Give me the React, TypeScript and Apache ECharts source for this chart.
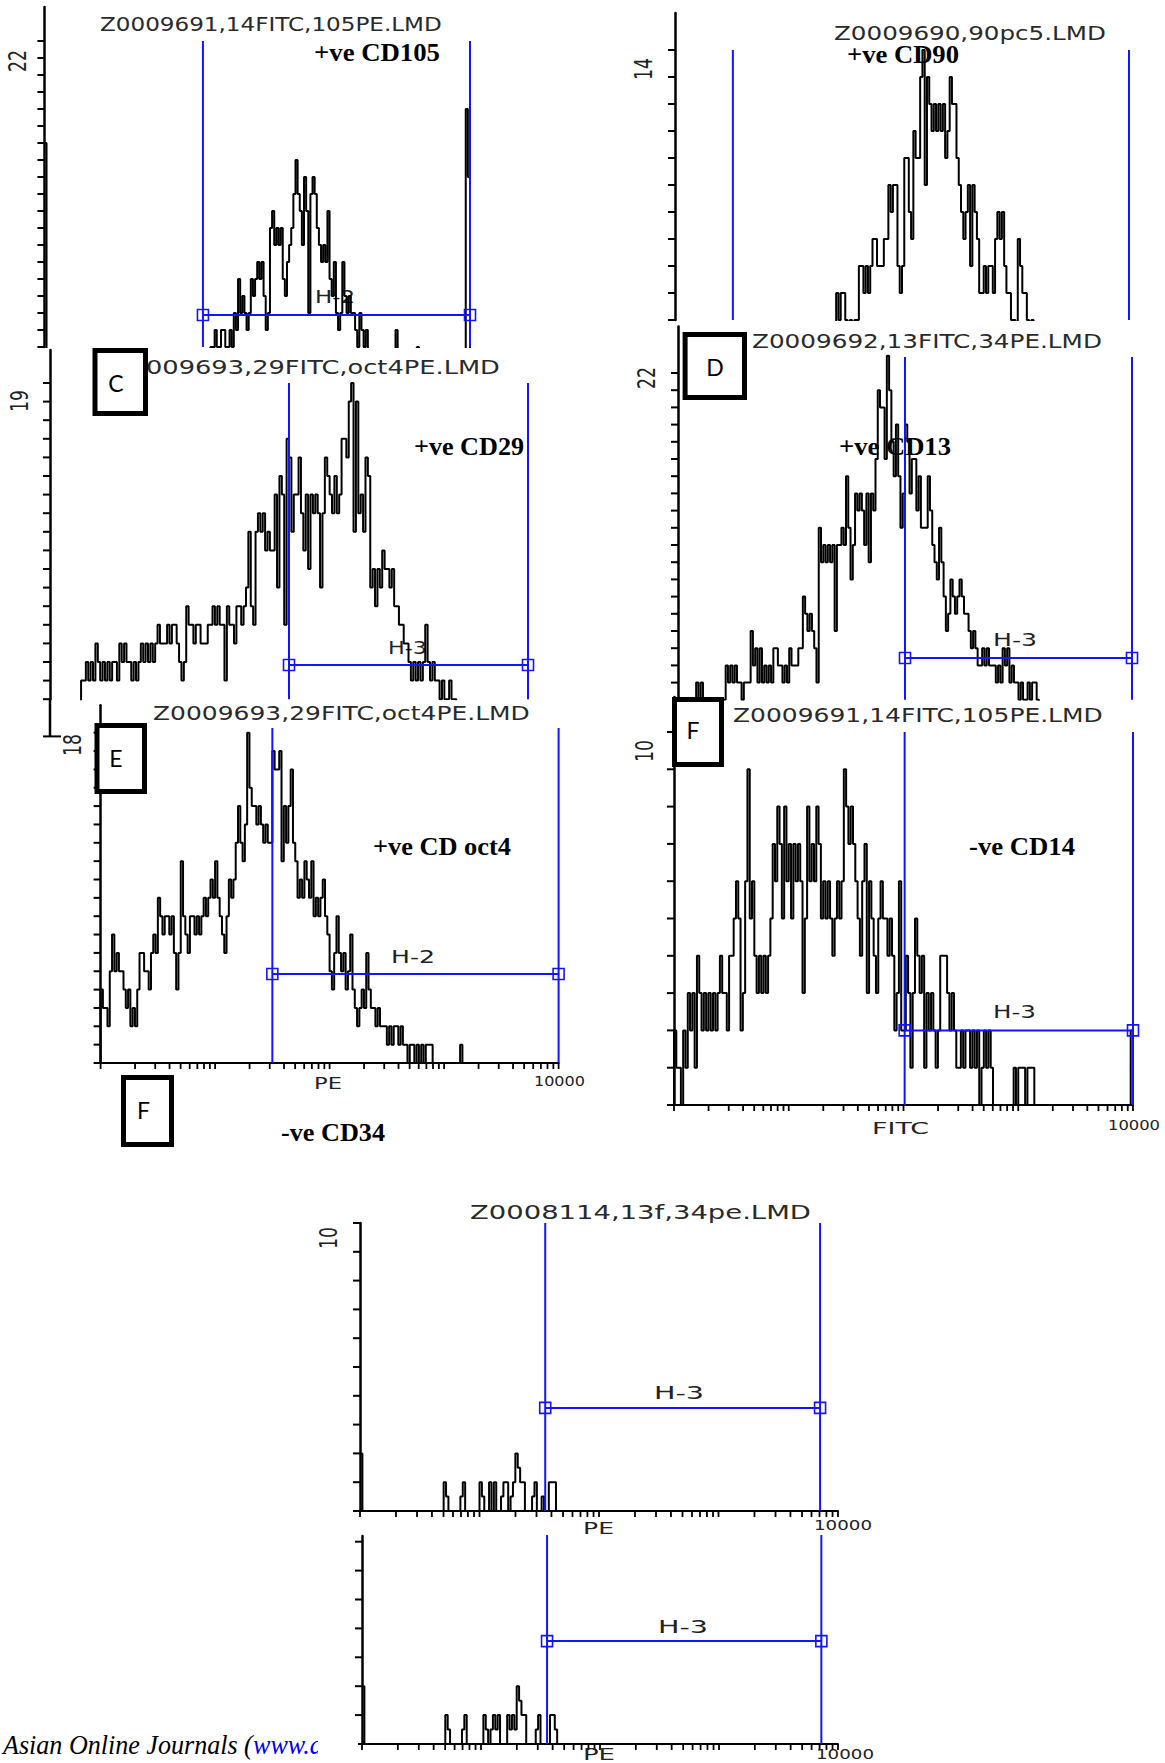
import React, { useEffect, useRef } from "react";
import * as echarts from "echarts";

// ---------- shared scale definitions (x in decades, log10 of channel value) ----------
const BIN = 0.02;
const LOG_MAX = 4; // 10^4 = 10000
const LOG_MANTISSAS = [1, 2, 3, 4, 5, 6, 7, 8, 9];
const LOG_DECADES = [0, 1, 2, 3];

// ---------- A : Z0009691 CD105 ----------
const A_START = 1.56;
const A_FIRST = 16;
const A_COUNTS = [4, 4, 5, 4, 4, 5, 5, 4, 4, 5, 4, 6, 5, 8, 6, 7, 6, 5, 6, 8, 7, 8, 9, 8, 9, 7, 5, 6, 11, 12, 10, 11, 10, 11, 8, 7, 9, 10, 11, 13, 15, 13, 12, 10, 14, 12, 6, 13, 14, 13, 11, 10, 9, 10, 9, 12, 8, 7, 9, 6, 5, 6, 9, 7, 6, 7, 6, 6, 5, 4, 6, 5, 4, 5, 3, 3, 3, 3, 2, 3, 3, 2, 3, 3, 3, 3, 3, 5, 2, 2, 3, 2, 2, 3, 2, 2, 2, 4, 0, 0, 0, 0, 0, 0, 0, 0, 0, 0, 0, 0, 0, 0, 0, 0, 0, 0, 0, 0, 0, 0, 18, 14];
const A_GATE = [1.49, 4.0, 5.88, 22];

// ---------- B : Z0009690 CD90 ----------
const B_START = 1.42;
const B_COUNTS = [5, 4, 5, 5, 4, 3, 4, 3, 4, 4, 6, 6, 5, 6, 5, 6, 7, 7, 6, 6, 6, 7, 7, 9, 8, 9, 9, 6, 5, 6, 10, 10, 8, 7, 11, 10, 10, 13, 14, 9, 13, 12, 11, 12, 11, 12, 11, 12, 10, 11, 13, 12, 12, 10, 9, 8, 7, 8, 9, 6, 9, 8, 7, 5, 5, 6, 5, 6, 6, 5, 7, 8, 7, 8, 6, 5, 5, 4, 4, 3, 7, 6, 5, 5, 4, 3, 4, 3, 2, 3];
const B_GATE = [0.51, 4.0, -1, 14];

// ---------- C : Z0009693 CD29 ----------
const C_START = 0.26;
const C_COUNTS = [3, 3, 4, 3, 4, 3, 5, 4, 3, 4, 3, 4, 3, 4, 4, 3, 5, 4, 5, 4, 4, 3, 4, 3, 4, 5, 4, 5, 4, 5, 4, 5, 6, 5, 5, 5, 6, 5, 6, 6, 5, 4, 3, 4, 7, 6, 6, 5, 6, 6, 5, 5, 5, 6, 6, 7, 6, 7, 6, 6, 3, 7, 6, 6, 5, 7, 7, 6, 7, 8, 11, 7, 6, 11, 12, 11, 12, 10, 11, 10, 10, 13, 8, 14, 13, 6, 16, 15, 11, 13, 13, 15, 12, 10, 13, 9, 13, 12, 13, 12, 8, 12, 15, 14, 13, 12, 14, 12, 13, 16, 16, 15, 18, 19, 11, 18, 12, 13, 11, 15, 14, 8, 9, 7, 9, 8, 10, 9, 9, 8, 9, 7, 7, 6, 6, 5, 5, 4, 3, 4, 3, 4, 3, 4, 6, 4, 3, 4, 3, 3, 2, 3, 2, 2, 3, 2, 2];
const C_GATE = [2.0, 4.0, 3.84, 19];

// ---------- D : Z0009692 CD13 ----------
const D_START = 0.14;
const D_COUNTS = [3, 4, 3, 4, 2, 2, 3, 2, 2, 3, 2, 3, 2, 3, 5, 4, 5, 4, 5, 4, 4, 3, 4, 4, 4, 7, 5, 6, 4, 6, 4, 5, 4, 5, 4, 6, 6, 5, 5, 4, 5, 4, 6, 5, 5, 5, 6, 6, 9, 8, 7, 8, 7, 6, 4, 13, 11, 12, 11, 12, 11, 12, 7, 12, 12, 13, 12, 16, 13, 10, 12, 15, 14, 15, 14, 12, 15, 11, 15, 14, 17, 21, 20, 20, 17, 23, 21, 18, 16, 19, 16, 13, 15, 19, 18, 15, 17, 17, 14, 16, 13, 13, 13, 16, 14, 12, 11, 10, 13, 11, 9, 7, 8, 10, 9, 8, 9, 10, 9, 8, 8, 7, 6, 7, 6, 5, 5, 6, 5, 6, 5, 5, 5, 4, 5, 4, 6, 5, 6, 4, 5, 4, 4, 3, 4, 3, 3, 4, 3, 4, 4, 3, 2];
const D_GATE = [2.0, 4.0, 5.43, 22.93];

// ---------- E : Z0009693 oct4 ----------
const E_START = 0;
const E_COUNTS = [4, 3, 3, 2, 5, 7, 5, 6, 5, 5, 4, 3, 4, 2, 3, 2, 4, 6, 6, 5, 5, 4, 6, 7, 6, 9, 8, 7, 8, 8, 7, 8, 6, 4, 6, 11, 8, 7, 6, 8, 8, 7, 8, 7, 8, 9, 8, 9, 10, 9, 11, 9, 8, 7, 6, 8, 10, 9, 10, 12, 14, 12, 11, 13, 18, 15, 14, 14, 13, 14, 13, 12, 13, 12, 12, 17, 16, 16, 17, 11, 14, 12, 14, 16, 12, 11, 9, 10, 9, 11, 10, 9, 11, 8, 9, 8, 9, 10, 8, 7, 5, 4, 6, 8, 6, 5, 6, 4, 5, 7, 4, 3, 2, 3, 4, 3, 6, 4, 3, 3, 2, 3, 2, 2, 2, 1, 2, 1, 2, 2, 1, 2, 1, 1, 0, 1, 1, 0, 1, 0, 1, 0, 1, 1, 1, 0, 0, 0, 0, 0, 0, 0, 0, 0, 0, 0, 0, 1, 0];
const E_GATE = [1.5, 4.0, 4.85, 18.26];

// ---------- F : Z0009691 CD14 ----------
const F_START = 0;
const F_COUNTS = [2, 1, 1, 0, 2, 1, 3, 2, 3, 1, 4, 3, 2, 3, 2, 3, 2, 3, 2, 3, 4, 3, 3, 2, 4, 4, 5, 6, 5, 2, 3, 6, 9, 5, 6, 4, 3, 4, 3, 4, 3, 4, 5, 7, 6, 8, 7, 5, 8, 6, 7, 5, 7, 6, 7, 6, 3, 5, 8, 6, 7, 6, 8, 7, 5, 6, 5, 6, 5, 4, 5, 6, 5, 6, 9, 8, 7, 8, 7, 6, 5, 4, 6, 7, 3, 6, 5, 4, 3, 5, 6, 5, 5, 4, 5, 4, 2, 3, 6, 2, 2, 4, 3, 1, 3, 5, 4, 3, 4, 1, 3, 2, 3, 2, 1, 2, 4, 4, 4, 3, 2, 3, 2, 1, 1, 2, 1, 2, 2, 1, 2, 1, 2, 0, 1, 2, 1, 2, 1, 0, 0, 0, 0, 0, 0, 0, 0, 0, 1, 0, 1, 1, 1, 0, 1, 1, 1, 0, 0, 0, 0, 0, 0, 0, 0, 0, 0, 0, 0, 0, 0, 0, 0, 0, 0, 0, 0, 0, 0, 0, 0, 0, 0, 0, 0, 0, 0, 0, 0, 0, 0, 0, 0, 0, 0, 0, 0, 0, 0, 2];
const F_GATE = [2.01, 4.0, 2.0, 10];

// ---------- G : Z0008114 CD34 (upper) ----------
const G_START = 0.7;
const G_FIRST = 2;
const G_COUNTS = [1, 0.5, 0, 0, 0, 0, 0, 0.5, 1, 0, 0, 0, 0, 0, 0, 1, 0.5, 0, 0, 1, 0, 1, 0, 0, 0.5, 1, 1, 0, 0.5, 1, 2, 1.5, 1, 1, 0, 0, 0, 0.5, 1, 0, 0, 0.5, 0, 0, 1, 1, 1, 0];
const G_GATE = [1.55, 3.85, 3.58, 10];

// ---------- H : CD34 (lower) ----------
const H_START = 0.7;
const H_FIRST = 2;
const H_COUNTS = [1, 0.5, 0, 0, 0, 0, 0, 0.5, 1, 0, 0, 0, 0, 0, 0, 0, 1, 0.5, 0, 0.5, 1, 0.5, 1, 0, 0, 0, 1, 0.5, 1, 0.5, 2, 1.5, 1, 1, 0, 0, 0, 0, 0.5, 1, 0, 0, 0, 0, 1, 1, 0.5, 0];
const H_GATE = [1.555, 3.86, 3.56, 7.23];

// ---------- texts ----------
const TITLES = [
  { text: "Z0009691,14FITC,105PE.LMD", x0: 100, x1: 442, cy: 24 },
  { text: "Z0009690,90pc5.LMD", x0: 834, x1: 1106, cy: 33 },
  { text: "Z0009693,29FITC,oct4PE.LMD", x0: 112, x1: 500, cy: 367 },
  { text: "Z0009692,13FITC,34PE.LMD", x0: 752, x1: 1102, cy: 341 },
  { text: "Z0009693,29FITC,oct4PE.LMD", x0: 153, x1: 530, cy: 713 },
  { text: "Z0009691,14FITC,105PE.LMD", x0: 733, x1: 1103, cy: 715 },
  { text: "Z0008114,13f,34pe.LMD", x0: 470, x1: 811, cy: 1212 },
];
const MARKERS = [
  { text: "+ve CD105", x0: 314, x1: 440, cy: 53 },
  { text: "+ve CD90", x0: 847, x1: 959, cy: 55 },
  { text: "+ve CD29", x0: 414, x1: 524, cy: 447 },
  { text: "+ve CD13", x0: 839, x1: 951, cy: 447 },
  { text: "+ve CD oct4", x0: 373, x1: 511, cy: 847 },
  { text: "-ve CD14", x0: 969, x1: 1075, cy: 847 },
  { text: "-ve CD34", x0: 281, x1: 385, cy: 1133 },
];
const GATE_NAMES = [
  { text: "H-2", x0: 315, x1: 355, cy: 297 },
  { text: "H-3", x0: 388, x1: 427, cy: 648 },
  { text: "H-3", x0: 993, x1: 1037, cy: 640 },
  { text: "H-2", x0: 391, x1: 435, cy: 957 },
  { text: "H-3", x0: 993, x1: 1036, cy: 1012 },
  { text: "H-3", x0: 654, x1: 704, cy: 1393 },
  { text: "H-3", x0: 658, x1: 708, cy: 1627 },
];
const AXIS_NAMES = [
  { text: "PE", x0: 314, x1: 342, cy: 1084 },
  { text: "10000", x0: 534, x1: 585, cy: 1081 },
  { text: "FITC", x0: 872, x1: 929, cy: 1128 },
  { text: "10000", x0: 1108, x1: 1160, cy: 1125 },
  { text: "PE", x0: 583, x1: 614, cy: 1528 },
  { text: "10000", x0: 814, x1: 872, cy: 1525 },
  { text: "PE", x0: 583, x1: 615, cy: 1754 },
  { text: "10000", x0: 816, x1: 874, cy: 1754 },
];
const Y_MAX_LABELS = [
  { text: "22", cx: 18, cy: 61 },
  { text: "14", cx: 644, cy: 69 },
  { text: "19", cx: 19.5, cy: 401 },
  { text: "22", cx: 647, cy: 378 },
  { text: "18", cx: 73, cy: 745 },
  { text: "10", cx: 645, cy: 751 },
  { text: "10", cx: 329, cy: 1238 },
];
const BOXES = [
  { letter: "C", x0: 92.5, x1: 148, y0: 348, y1: 416, lx: 116, ly: 383 },
  { letter: "D", x0: 682.6, x1: 747, y0: 332, y1: 400, lx: 715, ly: 367 },
  { letter: "E", x0: 94.5, x1: 147, y0: 723, y1: 794, lx: 116, ly: 758 },
  { letter: "F", x0: 121, x1: 174, y0: 1075, y1: 1147, lx: 143.5, ly: 1110 },
  { letter: "F", x0: 672, x1: 724, y0: 697, y1: 767, lx: 693, ly: 730 },
];
const FOOTER_MAIN = "Asian Online Journals (";
const FOOTER_LINK = "www.as";

// ---------- layout (pixels) ----------
const intRange = (a: number, b: number) => {
  const r: number[] = [];
  for (let v = a; v <= b; v++) r.push(v);
  return r;
};

const PANELS = [
  { start: A_START, counts: A_COUNTS, first: A_FIRST, gate: A_GATE, yMin: 4, yMax: 24, yTicks: intRange(4, 22), showX: false, left: 44.4, width: 425.6, base: 347, unit: 17 },
  { start: B_START, counts: B_COUNTS, first: null, gate: B_GATE, yMin: 4, yMax: 15.37, yTicks: intRange(4, 14), showX: false, left: 675, width: 454, base: 320, unit: 27 },
  { start: C_START, counts: C_COUNTS, first: null, gate: C_GATE, yMin: 2, yMax: 20.77, yTicks: intRange(2, 19), showX: false, left: 50, width: 478, base: 699.2, unit: 18.6 },
  { start: D_START, counts: D_COUNTS, first: null, gate: D_GATE, yMin: 3, yMax: 24.7, yTicks: intRange(4, 22), showX: false, left: 678, width: 454, base: 699.8, unit: 17.2 },
  { start: E_START, counts: E_COUNTS, first: null, gate: E_GATE, yMin: 0, yMax: 19.5, yTicks: intRange(0, 18), showX: true, left: 100.6, width: 458, base: 1063, unit: 18.35 },
  { start: F_START, counts: F_COUNTS, first: null, gate: F_GATE, yMin: 0, yMax: 10.94, yTicks: intRange(0, 10), showX: true, left: 674, width: 459, base: 1105, unit: 37.3 },
  { start: G_START, counts: G_COUNTS, first: G_FIRST, gate: G_GATE, yMin: 0, yMax: 10, yTicks: intRange(0, 10), showX: true, left: 360, width: 478, base: 1511, unit: 28.8 },
  { start: H_START, counts: H_COUNTS, first: H_FIRST, gate: H_GATE, yMin: 0, yMax: 7.2, yTicks: intRange(0, 7), showX: true, left: 362, width: 476, base: 1744, unit: 28.9 },
];

const BLUE = "#1414ff";
const TITLE_FONT = '20px "DejaVu Sans"';
const MARK_FONT = 'bold 25px "Liberation Serif"';
const GATE_FONT = '17px "DejaVu Sans"';
const AXNAME_FONT = '16px "DejaVu Sans"';
const NUM_FONT = '14px "DejaVu Sans"';
const YLAB_FONT = '24px "DejaVu Sans"';
const BOX_FONT = '23px "Lato"';
const FOOT_FONT = 'italic 27px "Liberation Serif"';

function histData(start: number, counts: number[], first: number | null) {
  const pts: number[][] = [];
  if (first != null) {
    pts.push([0, first]);
    pts.push([BIN, 0]);
  }
  pts.push([start, 0]);
  counts.forEach((c, i) => pts.push([+(start + i * BIN).toFixed(4), c]));
  pts.push([+(start + counts.length * BIN).toFixed(4), 0]);
  return pts;
}

const LOG_TICKS: number[] = [];
LOG_DECADES.forEach((d) => LOG_MANTISSAS.forEach((m) => LOG_TICKS.push(d + Math.log10(m))));
LOG_TICKS.push(LOG_MAX);

function buildOption() {
  const ctx = document.createElement("canvas").getContext("2d") as CanvasRenderingContext2D;
  const measure = (t: string, f: string) => {
    ctx.font = f;
    return ctx.measureText(t).width || 1;
  };
  const fitText = (t: { text: string; x0: number; x1: number; cy: number }, font: string, fill: string, z: number) => ({
    type: "text",
    x: t.x0,
    y: t.cy,
    scaleX: (t.x1 - t.x0) / measure(t.text, font),
    z,
    silent: true,
    style: { text: t.text, font, fill, align: "left", verticalAlign: "middle", textAlign: "left", textVerticalAlign: "middle" },
  });

  const grids: any[] = [];
  const xAxes: any[] = [];
  const yAxes: any[] = [];
  const series: any[] = [];

  PANELS.forEach((p, i) => {
    const h = (p.yMax - p.yMin) * p.unit;
    grids.push({ left: p.left, top: p.base - h, width: p.width, height: h, outerBoundsMode: "none", containLabel: false });
    xAxes.push({
      gridIndex: i, type: "value", min: 0, max: LOG_MAX, show: p.showX,
      axisLine: { show: p.showX, onZero: false, lineStyle: { color: "#000", width: 2 } },
      axisTick: { show: false }, axisLabel: { show: false }, splitLine: { show: false },
    });
    yAxes.push({
      gridIndex: i, type: "value", min: p.yMin, max: p.yMax,
      axisLine: { show: true, onZero: false, lineStyle: { color: "#000", width: 2.5 } },
      axisTick: { show: false }, axisLabel: { show: false }, splitLine: { show: false },
    });
    series.push({
      type: "line", xAxisIndex: i, yAxisIndex: i, data: histData(p.start, p.counts, p.first),
      step: "end", symbol: "none", showSymbol: false, clip: true, silent: true, z: 2,
      lineStyle: { color: "#000", width: 2 },
    });
    series.push({
      type: "custom", xAxisIndex: i, yAxisIndex: i, silent: true, z: 3, clip: false,
      data: p.yTicks.map((v) => [0, v]),
      encode: { x: 0, y: 1 },
      renderItem: (_: any, api: any) => {
        const c = api.coord([api.value(0), api.value(1)]);
        return { type: "line", shape: { x1: c[0] - 7, y1: c[1], x2: c[0], y2: c[1] }, style: { stroke: "#000", lineWidth: 2 } };
      },
    });
    if (p.showX) {
      series.push({
        type: "custom", xAxisIndex: i, yAxisIndex: i, silent: true, z: 3, clip: false,
        data: LOG_TICKS.map((v) => [v, 0]),
        encode: { x: 0, y: 1 },
        renderItem: (_: any, api: any) => {
          const c = api.coord([api.value(0), api.value(1)]);
          return { type: "line", shape: { x1: c[0], y1: c[1], x2: c[0], y2: c[1] + 6 }, style: { stroke: "#000", lineWidth: 1.8 } };
        },
      });
    }
    const yBottom = p.yMin;
    series.push({
      type: "custom", xAxisIndex: i, yAxisIndex: i, silent: true, z: 4, clip: false,
      data: [[p.gate[0], p.gate[1], p.gate[2], p.gate[3], yBottom]],
      encode: { x: [0, 1], y: [2, 3, 4] },
      renderItem: (_: any, api: any) => {
        const gl = api.value(0), gr = api.value(1), lv = api.value(2), top = api.value(3), bot = api.value(4);
        const lt = api.coord([gl, top]), lb = api.coord([gl, bot]);
        const rt = api.coord([gr, top]), rb = api.coord([gr, bot]);
        const ls = { stroke: BLUE, lineWidth: 2 };
        const children: any[] = [
          { type: "line", shape: { x1: lt[0], y1: lt[1], x2: lb[0], y2: lb[1] }, style: ls },
          { type: "line", shape: { x1: rt[0], y1: rt[1], x2: rb[0], y2: rb[1] }, style: ls },
        ];
        if (lv >= bot) {
          const hl = api.coord([gl, lv]), hr = api.coord([gr, lv]);
          children.push({ type: "line", shape: { x1: hl[0], y1: hl[1], x2: hr[0], y2: hr[1] }, style: ls });
          [hl, hr].forEach((q) =>
            children.push({ type: "rect", shape: { x: q[0] - 5.5, y: q[1] - 5.5, width: 11, height: 11 }, style: { stroke: BLUE, fill: "none", lineWidth: 1.6 } })
          );
        }
        return { type: "group", children };
      },
    });
  });

  const g: any[] = [];
  TITLES.forEach((t) => g.push(fitText(t, TITLE_FONT, "#2a2a2a", 100)));
  MARKERS.forEach((t) => g.push(fitText(t, MARK_FONT, "#000", 100)));
  GATE_NAMES.forEach((t) => g.push(fitText(t, GATE_FONT, "#222", 1)));
  AXIS_NAMES.forEach((t) => g.push(fitText(t, t.text === "10000" ? NUM_FONT : AXNAME_FONT, "#222", 100)));
  Y_MAX_LABELS.forEach((t) =>
    g.push({
      type: "text", x: t.cx, y: t.cy, rotation: Math.PI / 2, scaleX: 0.72, z: 100, silent: true,
      style: { text: t.text, font: YLAB_FONT, fill: "#222", align: "center", verticalAlign: "middle", textAlign: "center", textVerticalAlign: "middle" },
    })
  );
  BOXES.forEach((b) => {
    g.push({
      type: "rect", z: 100, silent: true,
      shape: { x: b.x0 + 2.5, y: b.y0 + 2.5, width: b.x1 - b.x0 - 5, height: b.y1 - b.y0 - 5 },
      style: { fill: "#fff", stroke: "#000", lineWidth: 5 },
    });
    g.push({
      type: "text", x: b.lx, y: b.ly, z: 101, silent: true,
      style: { text: b.letter, font: BOX_FONT, fill: "#000", align: "center", verticalAlign: "middle", textAlign: "center", textVerticalAlign: "middle" },
    });
  });

  // panel C's axis continues below its clipped area down to its baseline
  const pc = PANELS[2];
  const cBase = pc.base + pc.yMin * pc.unit;
  g.push({ type: "line", z: 100, silent: true, shape: { x1: pc.left, y1: pc.base, x2: pc.left, y2: cBase }, style: { stroke: "#000", lineWidth: 2.5 } });
  g.push({ type: "line", z: 100, silent: true, shape: { x1: pc.left - 7, y1: cBase, x2: pc.left + 11, y2: cBase }, style: { stroke: "#000", lineWidth: 2 } });

  // footer (cropped source credit)
  const footScale = (253 - 3) / measure(FOOTER_MAIN, FOOT_FONT);
  const mainW = measure(FOOTER_MAIN, FOOT_FONT) * footScale;
  g.push({
    type: "text", x: 3, y: 1745, scaleX: footScale, z: 100, silent: true,
    style: { text: FOOTER_MAIN, font: FOOT_FONT, fill: "#000", align: "left", verticalAlign: "middle", textAlign: "left", textVerticalAlign: "middle" },
  });
  g.push({
    type: "text", x: 3 + mainW, y: 1745, scaleX: footScale, z: 100, silent: true,
    style: { text: FOOTER_LINK, font: FOOT_FONT, fill: "#0000ee", align: "left", verticalAlign: "middle", textAlign: "left", textVerticalAlign: "middle" },
  });
  g.push({ type: "rect", z: 102, silent: true, shape: { x: 318, y: 1722, width: 40, height: 41 }, style: { fill: "#fff" } });

  return {
    animation: false,
    backgroundColor: "#fff",
    grid: grids,
    xAxis: xAxes,
    yAxis: yAxes,
    series,
    graphic: { elements: g },
  };
}

export default function App() {
  const ref = useRef<HTMLDivElement>(null);
  useEffect(() => {
    if (!ref.current) return;
    const chart = echarts.init(ref.current, undefined, { renderer: "svg" });
    chart.setOption(buildOption() as any);
    return () => chart.dispose();
  }, []);
  return (
    <div
      ref={ref}
      style={{ position: "absolute", left: 0, top: 0, width: 1165, height: 1763, background: "#fff" }}
    />
  );
}
